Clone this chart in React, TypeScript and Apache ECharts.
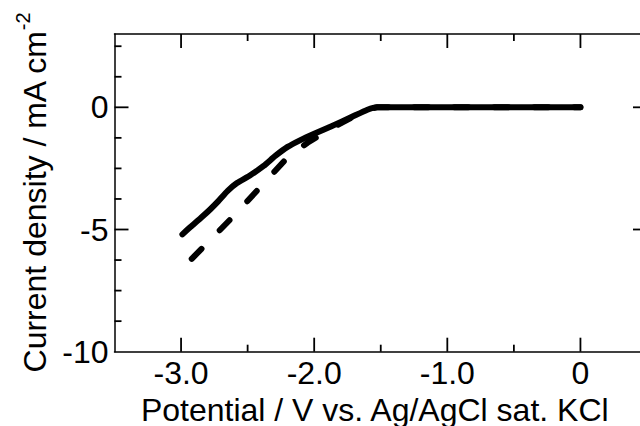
import React, { useEffect, useRef } from "react";
import * as echarts from "echarts";

// Solid curve (LSV), potential V vs current density mA cm^-2
const solidPotential = [-2.99, -2.93, -2.85, -2.78, -2.72, -2.65, -2.58, -2.48, -2.38, -2.29, -2.2, -2.1, -2.0, -1.87, -1.72, -1.6, -1.53, -1.2, -0.8, -0.4, 0];
const solidCurrent = [-5.2, -4.9, -4.52, -4.17, -3.84, -3.42, -3.1, -2.78, -2.4, -1.98, -1.62, -1.33, -1.08, -0.77, -0.4, -0.1, 0, 0, 0, 0, 0];

// Dashed curve
const dashedPotential = [-2.92, -2.6, -2.2, -2.05, -1.9, -1.72, -1.6, -1.53, -1.0, 0];
const dashedCurrent = [-6.2, -4.42, -2.05, -1.45, -0.95, -0.42, -0.1, 0, 0, 0];

// Axis ticks
const xLabelValues = [-3, -2, -1, 0];
const xMajorTicks = [-3, -2, -1, 0];
const xMinorTicks = [-2.5, -1.5, -0.5];
const yMajorTicks = [0, -5];
const yMinorTicks = [2.5, 1.25, -1.25, -2.5, -3.75, -6.25, -7.5, -8.75];

const X_MIN = -3.5;
const X_MAX = 0.5;
const Y_MIN = -10;
const Y_MAX = 3;

const FONT = "'Liberation Sans', Arial, Helvetica, sans-serif";

function pairs(xs: number[], ys: number[]) {
  return xs.map((x, i) => [x, ys[i]]);
}

// tick items: [x, y, orientation(0 = vertical tick for x axis, 1 = horizontal for y axis), isMajor]
function tickItems() {
  const items: number[][] = [];
  xMajorTicks.forEach((v) => items.push([v, Y_MIN, 0, 1]));
  xMinorTicks.forEach((v) => items.push([v, Y_MIN, 0, 0]));
  yMajorTicks.forEach((v) => items.push([X_MIN, v, 1, 1]));
  yMinorTicks.forEach((v) => items.push([X_MIN, v, 1, 0]));
  return items;
}

const MAJOR_LEN = 14;
const MINOR_LEN = 7;

export default function App() {
  const ref = useRef<HTMLDivElement>(null);
  useEffect(() => {
    if (!ref.current) return;
    const chart = echarts.init(ref.current, null, { renderer: "svg" });
    const axisLine = () => ({ show: true, onZero: false, lineStyle: { color: "#000", width: 1.5 } });
    const xBase = () => ({
      type: "value",
      min: X_MIN,
      max: X_MAX,
      interval: 1,
      axisLine: axisLine(),
      splitLine: { show: false },
      axisTick: { show: false },
      minorTick: { show: false },
    });
    const yBase = () => ({
      type: "value",
      min: Y_MIN,
      max: Y_MAX,
      interval: 5,
      axisLine: axisLine(),
      splitLine: { show: false },
      axisTick: { show: false },
      minorTick: { show: false },
    });
    chart.setOption({
      animation: false,
      backgroundColor: "#fff",
      grid: { left: 114.5, right: -7, top: 34, bottom: 74.3, containLabel: false, outerBoundsMode: "none" },
      xAxis: [
        {
          ...xBase(),
          position: "bottom",
          name: "Potential / V vs. Ag/AgCl sat. KCl",
          nameLocation: "middle",
          nameGap: 35,
          nameTextStyle: { fontSize: 32, fontFamily: FONT, color: "#000", padding: [0, 12, 0, 0] },
          axisLabel: {
            show: true,
            customValues: xLabelValues,
            margin: 5,
            fontSize: 32,
            fontFamily: FONT,
            color: "#000",
            formatter: (v: number) => (v === 0 ? "0" : v.toFixed(1)),
          },
        },
        { ...xBase(), position: "top", axisLabel: { show: false } },
      ],
      yAxis: [
        {
          ...yBase(),
          position: "left",
          name: "{a|Current density / mA cm}{b|-2}",
          nameLocation: "middle",
          nameRotate: 90,
          nameGap: 55,
          nameTextStyle: {
            fontFamily: FONT,
            color: "#000",
            rich: {
              a: { fontSize: 32, fontFamily: FONT, color: "#000", lineHeight: 38, verticalAlign: "bottom" },
              b: { fontSize: 20, fontFamily: FONT, color: "#000", lineHeight: 20, padding: [0, 0, 18, 0], verticalAlign: "bottom" },
            },
          },
          axisLabel: {
            show: true,
            margin: 6,
            fontSize: 32,
            fontFamily: FONT,
            color: "#000",
            formatter: (v: number) => (v === 3 ? "" : String(v)),
          },
        },
        { ...yBase(), position: "right", axisLabel: { show: false } },
      ],
      series: [
        {
          type: "custom",
          silent: true,
          clip: false,
          z: 5,
          data: tickItems(),
          renderItem: (params: any, api: any) => {
            const cs = params.coordSys;
            const left = cs.x;
            const right = cs.x + cs.width;
            const top = cs.y;
            const bottom = cs.y + cs.height;
            const p = api.coord([api.value(0), api.value(1)]);
            const len = api.value(3) ? MAJOR_LEN : MINOR_LEN;
            const style = { stroke: "#000", fill: null, lineWidth: 1.8 };
            if (api.value(2) === 0) {
              return {
                type: "group",
                children: [
                  { type: "line", shape: { x1: p[0], y1: bottom, x2: p[0], y2: bottom - len }, style },
                  { type: "line", shape: { x1: p[0], y1: top, x2: p[0], y2: top + len }, style },
                ],
              };
            }
            return {
              type: "group",
              children: [
                { type: "line", shape: { x1: left, y1: p[1], x2: left + len, y2: p[1] }, style },
                { type: "line", shape: { x1: right, y1: p[1], x2: right - len, y2: p[1] }, style },
              ],
            };
          },
        },
        {
          type: "line",
          data: pairs(dashedPotential, dashedCurrent),
          showSymbol: false,
          symbol: "none",
          lineStyle: { color: "#000", width: 6, type: [14, 26], cap: "round", join: "round" },
          z: 2,
        },
        {
          type: "line",
          data: pairs(solidPotential, solidCurrent),
          showSymbol: false,
          symbol: "none",
          smooth: 0.2,
          lineStyle: { color: "#000", width: 6, type: "solid", cap: "round", join: "round" },
          z: 3,
        },
      ],
    });
    return () => chart.dispose();
  }, []);
  return (
    <div
      ref={ref}
      style={{ position: "fixed", left: 0, top: 0, width: 640, height: 426, background: "#fff" }}
    />
  );
}
